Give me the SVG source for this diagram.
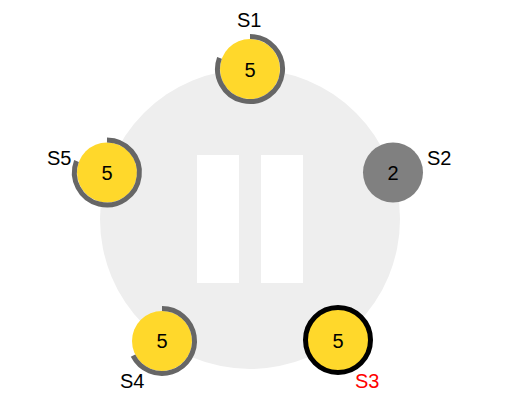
<svg xmlns="http://www.w3.org/2000/svg" width="514" height="408" viewBox="0 0 514 408">
<style>
text{font-family:"Liberation Sans",Arial,sans-serif;font-size:20px;fill:#000}
.v{text-anchor:middle}
.y{fill:#ffd82b}
.a{fill:none;stroke:#666;stroke-width:5}
.r{fill:#f00}
</style>
<rect width="514" height="408" fill="#fff"/>
<g id="pause">
<circle cx="250" cy="219" r="150" fill="#eee"/>
<rect x="197" y="155" width="42" height="128" fill="#fff"/>
<rect x="261" y="155" width="42" height="128" fill="#fff"/>
</g>
<g id="connectors"/>
<g id="S1">
<circle class="y" cx="250" cy="69" r="30"/>
<path class="a" d="M250 36.500A32.500 32.500 0 1 1 219.500 57.900"/>
<text class="v" x="250" y="76.500">5</text>
<text x="237" y="27">S1</text>
</g>
<g id="S2">
<circle cx="393" cy="172.500" r="30" fill="#808080"/>
<text class="v" x="393" y="180">2</text>
<text x="427" y="165">S2</text>
</g>
<g id="S3">
<circle class="y" cx="338" cy="340" r="32.500" stroke="#000" stroke-width="5"/>
<text class="v" x="338" y="347.500">5</text>
<text class="r" x="355" y="388">S3</text>
</g>
<g id="S4">
<circle class="y" cx="162" cy="341" r="30"/>
<path class="a" d="M162 308.500A32.500 32.500 0 1 1 133 355.700"/>
<text class="v" x="162" y="347.500">5</text>
<text x="120" y="388">S4</text>
</g>
<g id="S5">
<circle class="y" cx="107" cy="172.500" r="30"/>
<path class="a" d="M107 140A32.500 32.500 0 1 1 76.500 161"/>
<text class="v" x="107" y="180">5</text>
<text x="47" y="164.500">S5</text>
</g>
</svg>
